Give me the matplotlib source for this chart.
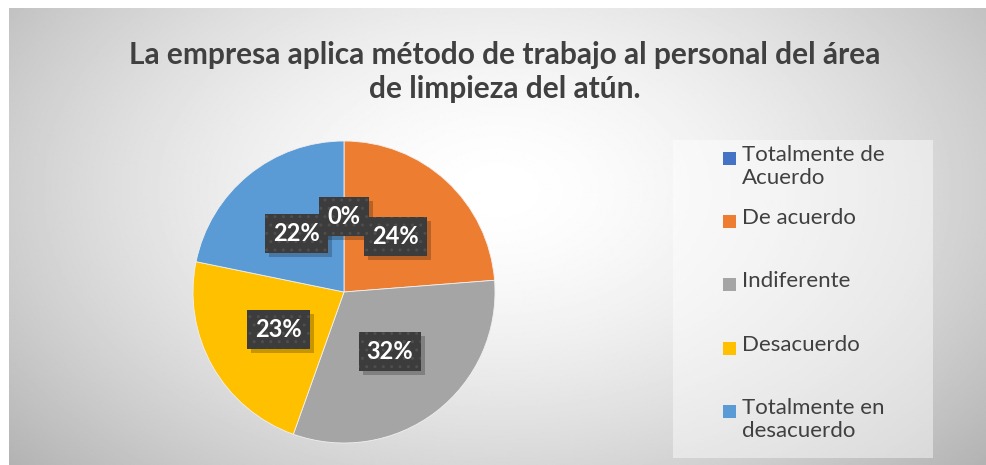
import numpy as np
import matplotlib.pyplot as plt
from matplotlib.patches import Rectangle
from matplotlib.transforms import ScaledTranslation

# Data
categories = ['Totalmente de\nAcuerdo', 'De acuerdo', 'Indiferente',
              'Desacuerdo', 'Totalmente en\ndesacuerdo']
values = [0, 24, 32, 23, 22]
colors = ['#4472C4', '#ED7D31', '#A5A5A5', '#FFC000', '#5B9BD5']
title = 'La empresa aplica método de trabajo al personal del área\nde limpieza del atún.'

W, H = 986, 465
fig = plt.figure(figsize=(W / 100, H / 100), dpi=100)
fig.patch.set_facecolor('white')
font = 'Lato'

# radial gray background of the chart area
bg = fig.add_axes([9 / W, 0, 1 - 9 / W, (H - 8) / H])
bg.set_axis_off()
yy, xx = np.mgrid[0:1:300j, 0:1:600j]
d = np.sqrt(((xx - 0.5) / 0.55) ** 2 + ((yy - 0.4) / 0.75) ** 2)
shade = 1 - 0.22 * np.clip(d, 0, 1.3) ** 1.6
bg.imshow(shade, cmap='gray', vmin=0, vmax=1, aspect='auto', extent=[0, 1, 0, 1], origin='upper')
bg.set_xlim(0, 1)
bg.set_ylim(0, 1)

fig.text(505 / W, 1 - 72 / H, title, ha='center', va='center', fontsize=21.5,
         fontweight='bold', color='#404040', family=font, linespacing=1.3)

# pie
cx, cy, r = 344, 292, 151
ax = fig.add_axes([(cx - r) / W, (H - cy - r) / H, 2 * r / W, 2 * r / H])
wedges, texts, autotexts = ax.pie(values, colors=colors, startangle=90, counterclock=False,
                                  autopct='%1.0f%%', pctdistance=0.5,
                                  wedgeprops=dict(edgecolor='#f0f0f0', linewidth=0.6))
ax.set_xlim(-1, 1)
ax.set_ylim(-1, 1)
ax.set_aspect('auto')

shift = ScaledTranslation(4 / 100, -4 / 100, fig.dpi_scale_trans)
box = dict(boxstyle='square,pad=0.34', linewidth=0)
for t in autotexts:
    x, y = t.get_position()
    # drop shadow
    ax.text(x, y, t.get_text(), ha='center', va='center', fontsize=17, fontweight='bold',
            family=font, color=(0, 0, 0, 0), zorder=4, transform=ax.transData + shift,
            bbox=dict(box, facecolor='black', alpha=0.22))
    t.set_fontsize(17)
    t.set_fontweight('bold')
    t.set_family(font)
    t.set_color('white')
    t.set_zorder(5)
    t.set_bbox(dict(box, facecolor='#3c3c3c', edgecolor='#4e4e4e', hatch='..'))

# legend
fig.patches.append(Rectangle((673 / W, 1 - 458 / H), 260 / W, 318 / H, transform=fig.transFigure,
                             facecolor='white', alpha=0.45, linewidth=0))
for i, (lab, col) in enumerate(zip(categories, colors)):
    y = 158 + i * 63.2
    fig.patches.append(Rectangle((723 / W, 1 - (y + 7) / H), 13 / W, 13 / H,
                                 transform=fig.transFigure, facecolor=col, linewidth=0))
    fig.text(742 / W, 1 - (y - 13) / H, lab, ha='left', va='top', fontsize=16,
             color='#404040', family=font, linespacing=1.2)

fig.savefig('out.png', dpi=100)
